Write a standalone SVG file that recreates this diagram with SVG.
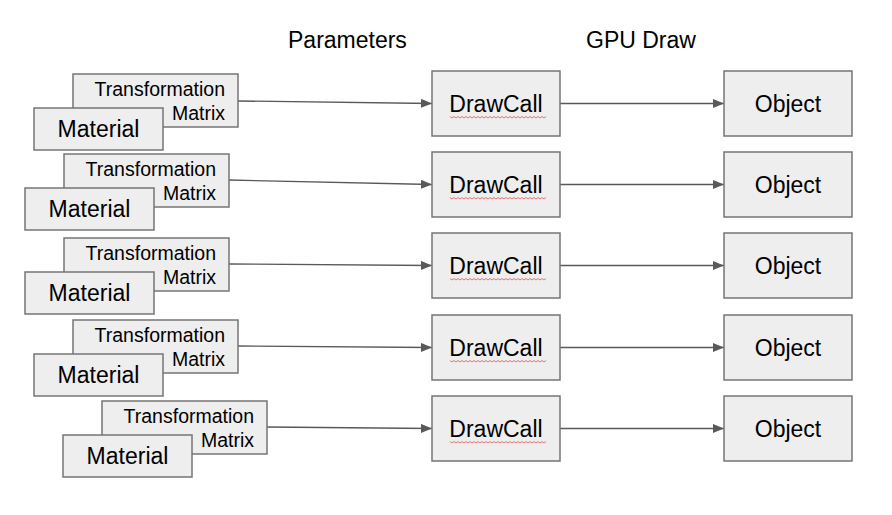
<svg xmlns="http://www.w3.org/2000/svg" xmlns:xlink="http://www.w3.org/1999/xlink" width="892" height="515" viewBox="0 0 892 515">
<style>
.box{fill:#eeeeee;stroke:#757575;stroke-width:1.5}
.t{font-family:"Liberation Sans",Arial,sans-serif;fill:#000}
.tm{font-size:19.5px;text-anchor:end}
.big{font-size:23px;text-anchor:middle}
.hdr{font-size:23px}
.conn{stroke:#595959;stroke-width:1.3;fill:none;marker-end:url(#ah)}
.sq{stroke:#e06666;stroke-width:0.9;fill:none}
</style>
<defs>
<marker id="ah" markerUnits="userSpaceOnUse" markerWidth="12" markerHeight="10" refX="11" refY="4.5" orient="auto">
<path d="M0,0 L11,4.5 L0,9 z" fill="#595959"/>
</marker>
<path id="sq" d="M0,0 l2,1.5 l2,-1.5 l2,1.5 l2,-1.5 l2,1.5 l2,-1.5 l2,1.5 l2,-1.5 l2,1.5 l2,-1.5 l2,1.5 l2,-1.5 l2,1.5 l2,-1.5 l2,1.5 l2,-1.5 l2,1.5 l2,-1.5 l2,1.5 l2,-1.5 l2,1.5 l2,-1.5 l2,1.5 l2,-1.5 l2,1.5 l2,-1.5 l2,1.5 l2,-1.5 l2,1.5 l2,-1.5 l2,1.5 l2,-1.5 l2,1.5 l2,-1.5 l2,1.5 l2,-1.5 l2,1.5 l2,-1.5 l2,1.5 l2,-1.5 l2,1.5 l2,-1.5 l2,1.5 l2,-1.5 l2,1.5 l2,-1.5 l2,1.5 l2,-1.5"/>
</defs>
<rect width="892" height="515" fill="#ffffff"/>

<g id="headers">
<text class="t hdr" x="288" y="48">Parameters</text>
<text class="t hdr" x="586" y="48">GPU Draw</text>
</g>

<g id="connectors">
<path class="conn" d="M238,101 L432,103.5"/>
<path class="conn" d="M229,180 L432,184.5"/>
<path class="conn" d="M229,264 L432,265.5"/>
<path class="conn" d="M238,346 L432,347.5"/>
<path class="conn" d="M267,427 L432,428.5"/>
<path class="conn" d="M560,103.5 L724,103.5"/>
<path class="conn" d="M560,184.5 L724,184.5"/>
<path class="conn" d="M560,265.5 L724,265.5"/>
<path class="conn" d="M560,347.5 L724,347.5"/>
<path class="conn" d="M560,428.5 L724,428.5"/>
</g>

<g id="tm1"><rect class="box" x="73" y="74" width="165" height="53"/><text class="t tm" x="225" y="96">Transformation</text><text class="t tm" x="225" y="120">Matrix</text></g>
<g id="mat1"><rect class="box" x="34" y="108" width="129" height="42"/><text class="t big" x="98.5" y="137">Material</text></g>

<g id="tm2"><rect class="box" x="64" y="154" width="165" height="53"/><text class="t tm" x="216" y="176">Transformation</text><text class="t tm" x="216" y="200">Matrix</text></g>
<g id="mat2"><rect class="box" x="25" y="188" width="129" height="42"/><text class="t big" x="89.5" y="217">Material</text></g>

<g id="tm3"><rect class="box" x="64" y="238" width="165" height="53"/><text class="t tm" x="216" y="260">Transformation</text><text class="t tm" x="216" y="284">Matrix</text></g>
<g id="mat3"><rect class="box" x="25" y="272" width="129" height="42"/><text class="t big" x="89.5" y="301">Material</text></g>

<g id="tm4"><rect class="box" x="73" y="320" width="165" height="53"/><text class="t tm" x="225" y="342">Transformation</text><text class="t tm" x="225" y="366">Matrix</text></g>
<g id="mat4"><rect class="box" x="34" y="354" width="129" height="42"/><text class="t big" x="98.5" y="383">Material</text></g>

<g id="tm5"><rect class="box" x="102" y="401" width="165" height="53"/><text class="t tm" x="254" y="423">Transformation</text><text class="t tm" x="254" y="447">Matrix</text></g>
<g id="mat5"><rect class="box" x="63" y="435" width="129" height="42"/><text class="t big" x="127.5" y="464">Material</text></g>

<g id="dc1"><rect class="box" x="432" y="71" width="128" height="65"/><text class="t big" x="496" y="112">DrawCall</text><use xlink:href="#sq" class="sq" x="450" y="116.5"/></g>
<g id="dc2"><rect class="box" x="432" y="152" width="128" height="65"/><text class="t big" x="496" y="193">DrawCall</text><use xlink:href="#sq" class="sq" x="450" y="197.5"/></g>
<g id="dc3"><rect class="box" x="432" y="233" width="128" height="65"/><text class="t big" x="496" y="274">DrawCall</text><use xlink:href="#sq" class="sq" x="450" y="278.5"/></g>
<g id="dc4"><rect class="box" x="432" y="315" width="128" height="65"/><text class="t big" x="496" y="356">DrawCall</text><use xlink:href="#sq" class="sq" x="450" y="360.5"/></g>
<g id="dc5"><rect class="box" x="432" y="396" width="128" height="65"/><text class="t big" x="496" y="437">DrawCall</text><use xlink:href="#sq" class="sq" x="450" y="441.5"/></g>

<g id="obj1"><rect class="box" x="724" y="71" width="128" height="65"/><text class="t big" x="788" y="112">Object</text></g>
<g id="obj2"><rect class="box" x="724" y="152" width="128" height="65"/><text class="t big" x="788" y="193">Object</text></g>
<g id="obj3"><rect class="box" x="724" y="233" width="128" height="65"/><text class="t big" x="788" y="274">Object</text></g>
<g id="obj4"><rect class="box" x="724" y="315" width="128" height="65"/><text class="t big" x="788" y="356">Object</text></g>
<g id="obj5"><rect class="box" x="724" y="396" width="128" height="65"/><text class="t big" x="788" y="437">Object</text></g>
</svg>
